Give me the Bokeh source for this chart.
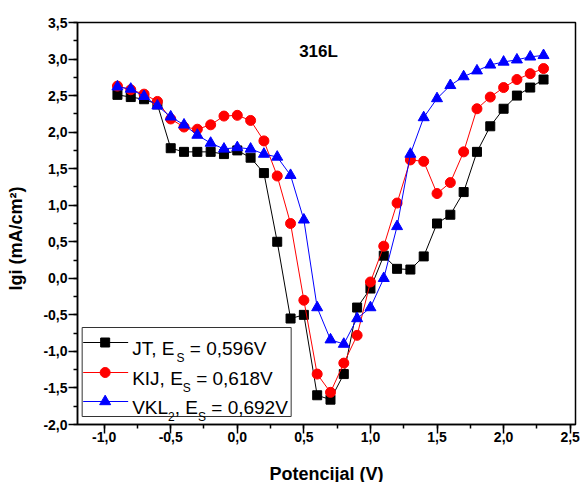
from bokeh.plotting import figure
from bokeh.models import SingleIntervalTicker, CustomJSTickFormatter, Label
from bokeh.embed import file_html
from bokeh.resources import INLINE

# ---- data ----
potential = [-0.9, -0.8, -0.7, -0.6, -0.5, -0.4, -0.3, -0.2, -0.1, 0.0, 0.1,
             0.2, 0.3, 0.4, 0.5, 0.6, 0.7, 0.8, 0.9, 1.0, 1.1, 1.2, 1.3, 1.4,
             1.5, 1.6, 1.7, 1.8, 1.9, 2.0, 2.1, 2.2, 2.3]
jt = [2.51, 2.48, 2.45, 2.38, 1.78, 1.73, 1.73, 1.73, 1.70, 1.75, 1.65,
      1.44, 0.50, -0.55, -0.50, -1.60, -1.66, -1.31, -0.40, -0.14, 0.31, 0.13,
      0.12, 0.30, 0.75, 0.87, 1.18, 1.73, 2.08, 2.32, 2.50, 2.61, 2.72]
kij = [2.63, 2.58, 2.52, 2.42, 2.18, 2.07, 2.04, 2.10, 2.22, 2.23, 2.16,
       1.88, 1.40, 0.75, -0.30, -1.31, -1.56, -1.16, -0.78, -0.05, 0.44, 1.03,
       1.62, 1.60, 1.16, 1.31, 1.73, 2.32, 2.48, 2.61, 2.72, 2.80, 2.87]
vkl2 = [2.62, 2.59, 2.49, 2.36, 2.21, 2.10, 1.96, 1.85, 1.77, 1.79, 1.77,
        1.70, 1.66, 1.41, 0.80, -0.40, -0.84, -0.90, -0.55, -0.40, 0.00, 0.71,
        1.70, 2.20, 2.46, 2.64, 2.76, 2.84, 2.92, 2.96, 2.99, 3.03, 3.05]

series_names = ["JT", "KIJ", "VKL"]
series_values = [jt, kij, vkl2]
series_colors = ["#000000", "#ff0000", "#0000ff"]
series_markers = ["square", "circle", "triangle"]
series_sizes = [9, 10, 11]
es_labels = ["0,596V", "0,618V", "0,692V"]
title_text = "316L"
x_label = "Potencijal (V)"
y_label = "lgi (mA/cm\u00b2)"

X0, X1 = -1.2, 2.54
Y0, Y1 = -2.0, 3.5
FW, FH = 498, 402
FONT = "Liberation Sans"
NB = "\u00a0"

p = figure(frame_width=FW, frame_height=FH, x_range=(X0, X1), y_range=(Y0, Y1),
           output_backend="svg", toolbar_location=None,
           min_border_left=77, min_border_top=22, min_border_right=10,
           min_border_bottom=56)
p.grid.visible = False
p.background_fill_color = "white"
p.border_fill_color = "white"
p.outline_line_color = "black"
p.outline_line_width = 1.5

fmt = CustomJSTickFormatter(code="var t = Math.abs(tick) < 1e-9 ? 0 : tick; return t.toFixed(1).replace('.', ',');")
for ax in (p.xaxis[0], p.yaxis[0]):
    ax.ticker = SingleIntervalTicker(interval=0.5, num_minor_ticks=2)
    ax.formatter = fmt
    ax.axis_line_width = 1.5
    ax.axis_line_color = "black"
    ax.major_tick_line_width = 1.5
    ax.minor_tick_line_width = 1.5
    ax.major_tick_in = 0
    ax.minor_tick_in = 0
    ax.major_tick_out = 9
    ax.minor_tick_out = 4
    ax.major_label_text_font = FONT
    ax.major_label_text_font_style = "bold"
    ax.major_label_text_font_size = "14px"
    ax.major_label_text_color = "black"
    ax.axis_label_text_font = FONT
    ax.axis_label_text_font_style = "bold"
    ax.axis_label_text_font_size = "18px"
    ax.axis_label_text_color = "black"

p.xaxis.axis_label = x_label
# trailing no-break spaces shift the rotated title slightly downward, as in the original
p.yaxis.axis_label = y_label + NB * 6
p.xaxis.major_label_standoff = -2
p.yaxis.major_label_standoff = 1
p.xaxis.axis_label_standoff = 19
p.yaxis.axis_label_standoff = 14

for vals, col, mk, sz in zip(series_values, series_colors, series_markers, series_sizes):
    p.line(potential, vals, line_color=col, line_width=1)
    p.scatter(potential, vals, marker=mk, size=sz, fill_color=col, line_color=col)

pxx = FW / (X1 - X0)
pxy = FH / (Y1 - Y0)

# title text inside plot
p.add_layout(Label(x=0.61, y=3.10, text=title_text, text_font=FONT,
                   text_font_style="bold", text_font_size="17px",
                   text_align="center", text_baseline="middle", text_color="black"))

# ---- manual legend (with subscripts) ----
lg_left, lg_top = -1.165, -0.673
lg_w, lg_h = 209, 89
lg_right = lg_left + lg_w / pxx
lg_bottom = lg_top - lg_h / pxy
p.quad(left=[lg_left], right=[lg_right], top=[lg_top], bottom=[lg_bottom],
       fill_color="white", line_color="#333333", line_width=1)

row_off = [15, 45, 74]
F, f = 19, 12
em = {"J": .5, "T": .611, ",": .278, " ": .278, NB: .278, "E": .667, "K": .667, "I": .278,
      "V": .667, "L": .556, "S": .667, "2": .556, "=": .584}

for i, (name, col, mk, sz, es) in enumerate(zip(series_names, series_colors, series_markers,
                                                series_sizes, es_labels)):
    yc = lg_top - row_off[i] / pxy
    x_a = lg_left + 1 / pxx
    x_b = lg_left + 46 / pxx
    x_m = lg_left + 23 / pxx
    p.line([x_a, x_b], [yc, yc], line_color=col, line_width=1)
    p.scatter([x_m], [yc], marker=mk, size=sz, fill_color=col, line_color=col)
    xt = lg_left + 50 / pxx
    if name == "VKL":
        parts = [("VKL", F, 0), ("2", f, -9), ("," + NB + "E", F, 0), ("S", f, -9),
                 (NB + "=" + NB + es, F, 0)]
    else:
        parts = [(name + "," + NB + "E", F, 0), ("S", f, -9), (NB + "=" + NB + es, F, 0)]
    off = 0.0
    for txt, size, dy in parts:
        p.add_layout(Label(x=xt, y=yc, x_offset=off, y_offset=-6 + dy, text=txt,
                           text_font=FONT, text_font_size=f"{size}px",
                           text_baseline="alphabetic", text_align="left",
                           text_color="black"))
        off += sum(em.get(c, .556) for c in txt) * size

open("out.html", "w").write(file_html(p, INLINE))
